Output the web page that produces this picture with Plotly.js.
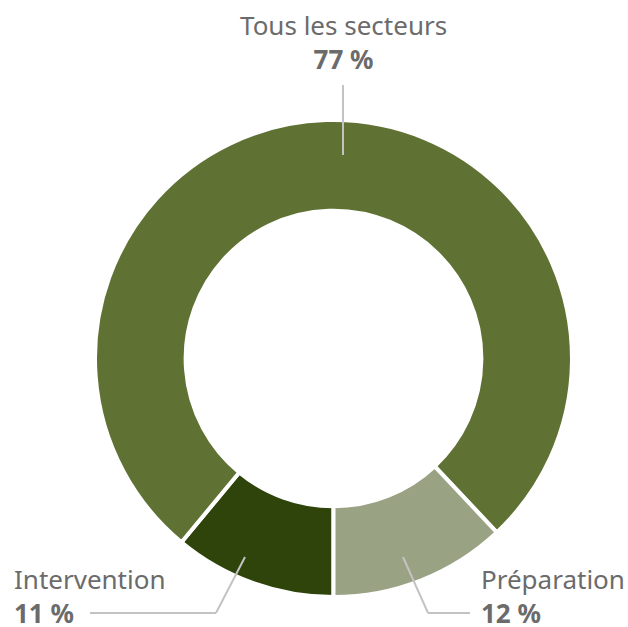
<!DOCTYPE html>
<html>
<head>
<meta charset="utf-8">
<script src="https://cdn.plot.ly/plotly-3.0.1.min.js"></script>
<style>html,body{margin:0;padding:0;background:#fff;}#chart{width:628px;height:627px;}</style>
</head>
<body>
<div id="chart"></div>
<script>
const labels = ["Intervention", "Tous les secteurs", "Préparation"];
const values = [11, 77, 12];
const colors = ["#2e440b", "#5f7234", "#99a283"];

const W = 628, H = 627;
const M = {l: 95, r: 56, t: 120, b: 30};
const dw = W - M.l - M.r, dh = H - M.t - M.b;
const px = x => (x - M.l) / dw;
const py = y => 1 - (y - M.t) / dh;

const textColor = "#6b6b6b";
const lineColor = "#c3c3c3";
const fontFam = "Noto Sans, sans-serif";

function ann(i, x, y, xanchor, align) {
  return {
    text: labels[i] + "<br><b>" + values[i] + " %</b>",
    x: px(x), y: py(y), xref: "paper", yref: "paper",
    xanchor: xanchor, yanchor: "middle", align: align, showarrow: false,
    borderpad: 0,
    font: {family: fontFam, size: 26, color: textColor}
  };
}
function seg(x0, y0, x1, y1) {
  return {type: "line", xref: "paper", yref: "paper",
    x0: px(x0), y0: py(y0), x1: px(x1), y1: py(y1),
    line: {color: lineColor, width: 2}};
}

const annotations = [
  ann(1, 343, 42, "center", "center"),
  ann(0, 13, 596, "left", "left"),
  ann(2, 480, 596, "left", "left")
];
const shapes = [
  seg(343, 85, 343, 155),
  seg(245, 557, 216, 613), seg(216, 613, 90, 613),
  seg(403, 557, 428, 613), seg(428, 613, 470, 613)
];

Plotly.newPlot("chart", [{
  type: "pie",
  labels: labels,
  values: values,
  hole: 0.62,
  sort: false,
  direction: "clockwise",
  rotation: 180,
  textinfo: "none",
  hoverinfo: "label+percent",
  marker: {colors: colors, line: {color: "#ffffff", width: 4}}
}], {
  width: W, height: H,
  margin: M,
  showlegend: false,
  paper_bgcolor: "#ffffff",
  annotations: annotations,
  shapes: shapes
}, {displayModeBar: false, staticPlot: true});
</script>
</body>
</html>
